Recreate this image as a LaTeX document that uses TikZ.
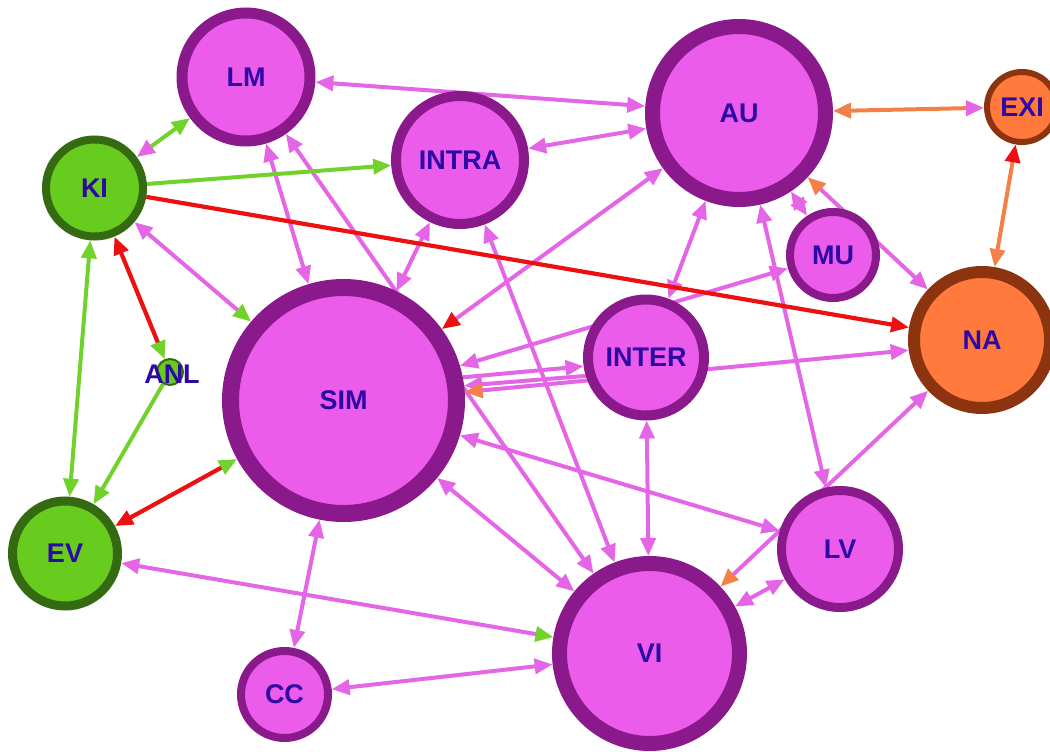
\documentclass[tikz,border=0pt]{standalone}
\usepackage{fontspec}
\setmainfont{Liberation Sans}
\usetikzlibrary{arrows.meta,backgrounds}
\definecolor{pinkF}{RGB}{236,92,234}
\definecolor{purpB}{RGB}{138,26,140}
\definecolor{pinkE}{RGB}{228,102,230}
\definecolor{greenF}{RGB}{104,204,30}
\definecolor{greenB}{RGB}{52,106,18}
\definecolor{greenE}{RGB}{112,210,42}
\definecolor{orangeF}{RGB}{255,122,60}
\definecolor{orangeB}{RGB}{140,52,16}
\definecolor{orangeE}{RGB}{244,128,72}
\definecolor{redE}{RGB}{236,16,16}
\definecolor{txtC}{RGB}{45,8,165}
\newcommand{\mylbl}{\fontsize{27}{27}\selectfont\bfseries}
\tikzset{
  ring/.style 2 args={circle, inner sep=0pt, minimum size={2*#1-#2}, line width=#2 pt, outer sep={#2/2*1pt}, text=txtC, font=\mylbl},
  pn/.style={draw=purpB, fill=pinkF},
  gn/.style={draw=greenB, fill=greenF},
  on/.style={draw=orangeB, fill=orangeF},
  tP/.tip={Triangle[length=18pt,width=15pt,color=pinkE]},
  tG/.tip={Triangle[length=18pt,width=15pt,color=greenE]},
  tR/.tip={Triangle[length=18pt,width=15pt,color=redE]},
  tO/.tip={Triangle[length=18pt,width=15pt,color=orangeE]},
  eP/.style={draw=pinkE, line width=4pt},
  eG/.style={draw=greenE, line width=4pt},
  eR/.style={draw=redE, line width=4.2pt},
  eO/.style={draw=orangeE, line width=4pt},
}
\begin{document}
\begin{tikzpicture}[x=1pt,y=-1pt]
\useasboundingbox (0,0) rectangle (1050,752);
% nodes
\node[ring={69.5}{11}, pn] (LM) at (246,77) {LM};
\node[ring={69}{10}, pn] (INTRA) at (460,160) {INTRA};
\node[ring={94}{15}, pn] (AU) at (739,113) {AU};
\node[ring={38}{6}, on] (EXI) at (1022,107) {EXI};
\node[ring={47}{8}, pn] (MU) at (833,255) {MU};
\node[ring={74}{12}, on] (NA) at (982,340) {NA};
\node[ring={52.5}{8}, gn] (KI) at (94.5,188) {KI};
\node[ring={14}{2}, gn, label={[text=txtC, font=\mylbl, xshift=2pt, yshift=-2pt]center:ANL}] (ANL) at (170,372) {};
\node[ring={121.5}{17}, pn] (SIM) at (343.5,400.5) {SIM};
\node[ring={63}{10}, pn] (INTER) at (646,357.5) {INTER};
\node[ring={57}{9}, gn] (EV) at (65,553.5) {EV};
\node[ring={63}{9}, pn] (LV) at (840,549) {LV};
\node[ring={97.5}{15}, pn] (VI) at (649.5,653.5) {VI};
\node[ring={47.5}{8}, pn] (CC) at (284.5,694.5) {CC};
% edges
\begin{scope}[on background layer]
\draw[eP,{tP}-{tP}] (LM) -- (AU);
\draw[eG,{tP}-{tG}] (KI) -- (LM);
\draw[eP,{tP}-{tP}] (LM) -- (SIM);
\draw[eP,{tP}-{tP}] (LM) -- (VI);
\draw[eG,-{tG}] (KI) -- (INTRA);
\draw[eP,{tP}-{tG}] (KI) -- (SIM);
\draw[eR,{tR}-{tG}] (KI) -- (ANL);
\draw[eG,{tG}-{tG}] (KI) -- (EV);
\draw[eG,-{tG}] (ANL) -- (EV);
\draw[eR,{tR}-{tG}] (EV) -- (SIM);
\draw[eP,{tP}-{tG}] (EV) -- (VI);
\draw[eP,{tP}-{tP}] (INTRA) -- (AU);
\draw[eP,{tP}-{tP}] (INTRA) -- (SIM);
\draw[eP,{tP}-{tP}] (INTRA) -- (VI);
\draw[eP,{tP}-{tR}] (AU) -- (SIM);
\draw[eO,{tO}-{tP}] (AU) -- (EXI);
\draw[eO,{tR}-{tO}] (EXI) -- (NA);
\draw[eP,{tP}-{tP}] (AU) -- (INTER);
\draw[eP,{tP}-{tP}] (AU) -- (MU);
\draw[eP,{tO}-{tP}] (AU) -- (NA);
\draw[eP,{tP}-{tP}] (AU) -- (LV);
\draw[eP,{tP}-{tP}] (MU) -- (SIM);
\draw[eP,-{tP}] (SIM.11) -- (INTER.188);
\draw[eP,-{tP}] (INTER.197) -- (SIM.7);
\draw[eP,{tP}-{tO}] (NA.188) -- (SIM.4);
\draw[eP,{tP}-{tP}] (INTER) -- (VI);
\draw[eP,{tP}-{tO}] (NA) -- (VI);
\draw[eP,{tP}-{tP}] (SIM) -- (LV);
\draw[eP,{tP}-{tP}] (LV) -- (VI);
\draw[eP,{tP}-{tP}] (SIM) -- (VI);
\draw[eP,{tP}-{tP}] (SIM) -- (CC);
\draw[eP,{tP}-{tP}] (CC) -- (VI);
\draw[eR,-{tR}] (KI) -- (NA);
\end{scope}
\end{tikzpicture}
\end{document}
